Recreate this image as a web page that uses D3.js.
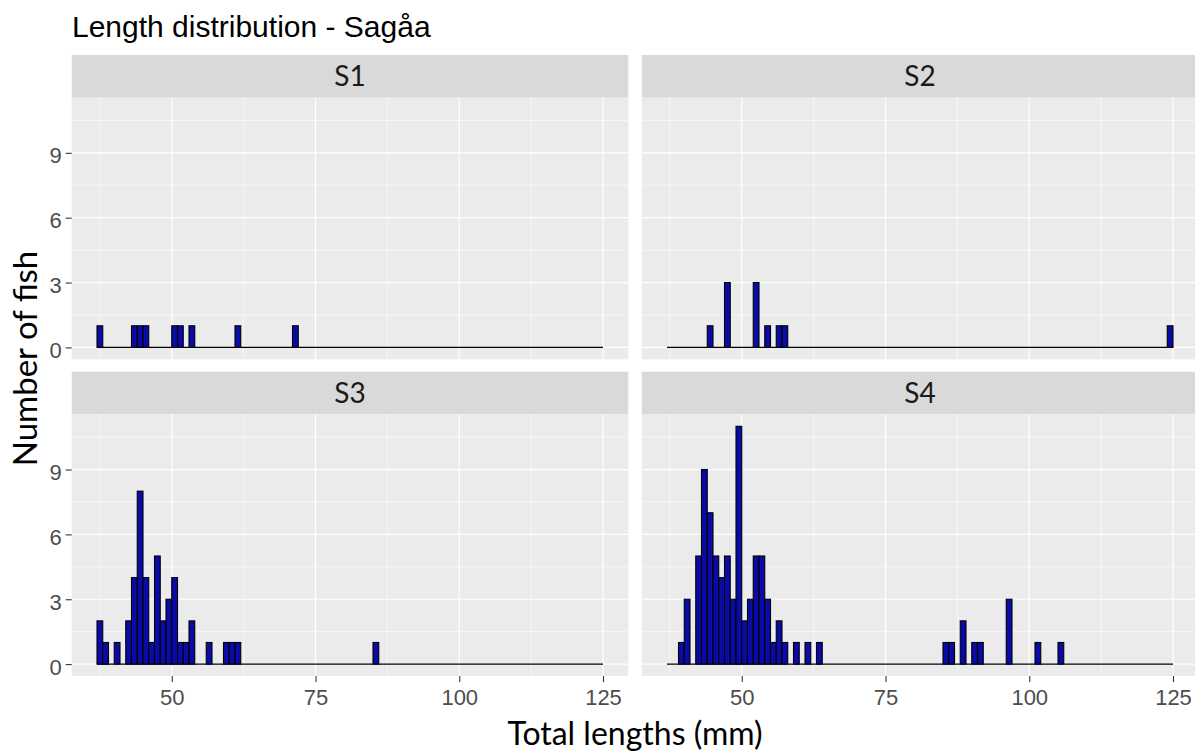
<!DOCTYPE html>
<html>
<head>
<meta charset="utf-8">
<script src="https://cdn.jsdelivr.net/npm/d3@7"></script>
<style>
  html, body { margin: 0; padding: 0; background: #ffffff; }
  svg { display: block; }
</style>
</head>
<body>
<div id="chart"></div>
<script>
// Histogram of fish total length (1 mm bins, [start, start + 1)) per station
const stations = ["S1", "S2", "S3", "S4"];

const binStartS1 = [37, 43, 44, 45, 50, 51, 53, 61, 71];
const countsS1 = [1, 1, 1, 1, 1, 1, 1, 1, 1];

const binStartS2 = [44, 47, 52, 54, 56, 57, 124];
const countsS2 = [1, 3, 3, 1, 1, 1, 1];

const binStartS3 = [37, 38, 40, 42, 43, 44, 45, 46, 47, 48, 49, 50, 51, 52, 53, 56, 59, 60, 61, 85];
const countsS3 = [2, 1, 1, 2, 4, 8, 4, 1, 5, 2, 3, 4, 1, 1, 2, 1, 1, 1, 1, 1];

const binStartS4 = [39, 40, 42, 43, 44, 45, 46, 47, 48, 49, 50, 51, 52, 53, 54, 55, 56, 57, 59, 61, 63, 85, 86, 88, 90, 91, 96, 101, 105];
const countsS4 = [1, 3, 5, 9, 7, 5, 4, 5, 3, 11, 2, 3, 5, 5, 3, 1, 2, 1, 1, 1, 1, 1, 1, 2, 1, 1, 3, 1, 1];

const xTickValues = [50, 75, 100, 125];
const yTickValues = [0, 3, 6, 9];

const binRange = [37, 125];   // outer bin edges
const binWidth = 1;

const titleText = "Length distribution - Sagåa";
const xTitle = "Total lengths (mm)";
const yTitle = "Number of fish";

const panelData = [
  { name: stations[0], bins: binStartS1, counts: countsS1 },
  { name: stations[1], bins: binStartS2, counts: countsS2 },
  { name: stations[2], bins: binStartS3, counts: countsS3 },
  { name: stations[3], bins: binStartS4, counts: countsS4 }
];

// ---- layout ----
const W = 1195, H = 751;
const left0 = 71.7, panelW = 556.6, gapX = 13.4;
const top0 = 55, stripH = 42.7, panelH = 261.6, gapY = 12.4;

const svg = d3.select("#chart").append("svg")
  .attr("width", W).attr("height", H);

// scales with 5% expansion on both sides
const span = binRange[1] - binRange[0];
const x = d3.scaleLinear()
  .domain([binRange[0] - 0.05 * span, binRange[1] + 0.05 * span])
  .range([0, panelW]);
const yMax = d3.max(panelData, p => d3.max(p.counts));
const y = d3.scaleLinear()
  .domain([-0.05 * yMax, yMax * 1.05])
  .range([panelH, 0]);

const xStep = xTickValues[1] - xTickValues[0];
const xMinor = [xTickValues[0] - xStep / 2].concat(xTickValues.map(v => v + xStep / 2));
const yStep = yTickValues[1] - yTickValues[0];
const yMinor = yTickValues.map(v => v + yStep / 2);

const tickFont = "'Liberation Sans', Arial, sans-serif";
const titleFont = "Lato, 'Open Sans', sans-serif";

panelData.forEach((p, i) => {
  const col = i % 2, row = Math.floor(i / 2);
  const px = left0 + col * (panelW + gapX);
  const stripTop = top0 + row * (stripH + panelH + gapY);
  const py = stripTop + stripH;

  // strip
  svg.append("rect")
    .attr("x", px).attr("y", stripTop)
    .attr("width", panelW).attr("height", stripH)
    .attr("fill", "#d9d9d9");
  svg.append("text")
    .attr("x", px + panelW / 2).attr("y", stripTop + stripH / 2 + 10)
    .attr("text-anchor", "middle")
    .attr("font-family", titleFont)
    .attr("font-size", 28)
    .attr("fill", "#1a1a1a")
    .text(p.name);

  const g = svg.append("g").attr("transform", `translate(${px},${py})`);

  g.append("rect")
    .attr("width", panelW).attr("height", panelH)
    .attr("fill", "#ebebeb");

  // minor grid
  g.selectAll(".xminor").data(xMinor.filter(v => x(v) >= 0 && x(v) <= panelW)).enter()
    .append("line")
    .attr("x1", d => x(d)).attr("x2", d => x(d))
    .attr("y1", 0).attr("y2", panelH)
    .attr("stroke", "#ffffff").attr("stroke-width", 0.6);
  g.selectAll(".yminor").data(yMinor.filter(v => y(v) >= 0)).enter()
    .append("line")
    .attr("x1", 0).attr("x2", panelW)
    .attr("y1", d => y(d)).attr("y2", d => y(d))
    .attr("stroke", "#ffffff").attr("stroke-width", 0.6);
  // major grid
  g.selectAll(".xmajor").data(xTickValues).enter()
    .append("line")
    .attr("x1", d => x(d)).attr("x2", d => x(d))
    .attr("y1", 0).attr("y2", panelH)
    .attr("stroke", "#ffffff").attr("stroke-width", 1.2);
  g.selectAll(".ymajor").data(yTickValues).enter()
    .append("line")
    .attr("x1", 0).attr("x2", panelW)
    .attr("y1", d => y(d)).attr("y2", d => y(d))
    .attr("stroke", "#ffffff").attr("stroke-width", 1.2);

  // empty bins show as the black outline along zero
  g.append("line")
    .attr("x1", x(binRange[0]))
    .attr("x2", x(binRange[1]))
    .attr("y1", y(0)).attr("y2", y(0))
    .attr("stroke", "#000000").attr("stroke-width", 1.2);

  // bars
  const bars = p.bins.map((b, k) => ({ start: b, n: p.counts[k] }));
  g.selectAll(".bar").data(bars).enter()
    .append("rect")
    .attr("x", d => x(d.start))
    .attr("width", d => x(d.start + binWidth) - x(d.start))
    .attr("y", d => y(d.n))
    .attr("height", d => y(0) - y(d.n))
    .attr("fill", "#0a0aa6")
    .attr("stroke", "#000000")
    .attr("stroke-width", 1.1);

  // y axis on left column
  if (col === 0) {
    const ya = d3.axisLeft(y).tickValues(yTickValues).tickSize(6).tickPadding(4).tickFormat(d3.format("d"));
    const ag = g.append("g").call(ya);
    ag.select(".domain").remove();
    ag.selectAll(".tick line").attr("stroke", "#333333").attr("stroke-width", 1.1);
    ag.selectAll(".tick text")
      .attr("dy", "0.45em")
      .attr("font-family", tickFont)
      .attr("font-size", 22).attr("fill", "#4d4d4d");
  }
  // x axis on bottom row
  if (row === 1) {
    const xa = d3.axisBottom(x).tickValues(xTickValues).tickSize(6).tickPadding(4).tickFormat(d3.format("d"));
    const ag = g.append("g").attr("transform", `translate(0,${panelH})`).call(xa);
    ag.select(".domain").remove();
    ag.selectAll(".tick line").attr("stroke", "#333333").attr("stroke-width", 1.1);
    ag.selectAll(".tick text")
      .attr("y", 29).attr("dy", 0)
      .attr("font-family", tickFont)
      .attr("font-size", 22).attr("fill", "#4d4d4d");
  }
});

// titles
svg.append("text")
  .attr("x", 72).attr("y", 37)
  .attr("font-family", tickFont)
  .attr("font-size", 30)
  .attr("fill", "#000000")
  .text(titleText);

const plotLeft = left0, plotRight = left0 + 2 * panelW + gapX;
const plotTop = top0, plotBottom = top0 + 2 * (stripH + panelH) + gapY;

svg.append("text")
  .attr("x", (plotLeft + plotRight) / 2).attr("y", 745)
  .attr("text-anchor", "middle")
  .attr("font-family", titleFont)
  .attr("font-size", 32)
  .attr("fill", "#000000")
  .text(xTitle);

svg.append("text")
  .attr("transform", `translate(37,${(plotTop + plotBottom) / 2 - 7}) rotate(-90)`)
  .attr("text-anchor", "middle")
  .attr("font-family", titleFont)
  .attr("font-size", 33)
  .attr("fill", "#000000")
  .text(yTitle);
</script>
</body>
</html>
